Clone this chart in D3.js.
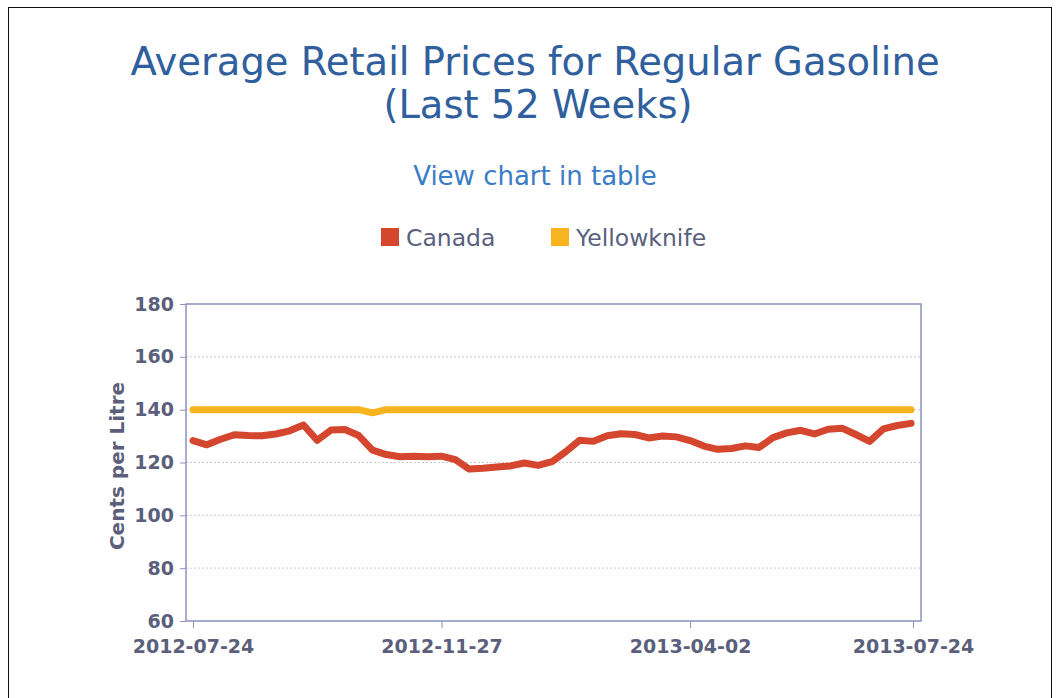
<!DOCTYPE html>
<html>
<head>
<meta charset="utf-8">
<script src="https://cdn.jsdelivr.net/npm/d3@7"></script>
<style>
  body { margin: 0; background: #fff; }
  svg { display: block; }
</style>
</head>
<body>
<div id="chart"></div>
<script>
// weekly prices, cents per litre, from 2012-07-24
const startDate = '2012-07-24';
const seriesNames = ['Canada', 'Yellowknife'];
const canadaValues = [
  128.3, 126.7, 128.8, 130.5, 130.2, 130.1, 130.8, 132.0, 134.2, 128.4,
  132.3, 132.5, 130.2, 124.7, 123.0, 122.2, 122.4, 122.2, 122.4, 121.1,
  117.5, 117.8, 118.3, 118.7, 119.8, 118.9, 120.3, 124.1, 128.4, 128.0,
  130.1, 130.9, 130.6, 129.3, 130.0, 129.7, 128.3, 126.2, 125.0, 125.3,
  126.3, 125.7, 129.4, 131.2, 132.2, 130.8, 132.6, 133.0, 130.6, 128.0,
  132.7, 134.0, 134.8
];
const yellowknifeValues = [
  140.0, 140.0, 140.0, 140.0, 140.0, 140.0, 140.0, 140.0, 140.0, 140.0,
  140.0, 140.0, 140.0, 138.8, 140.0, 140.0, 140.0, 140.0, 140.0, 140.0,
  140.0, 140.0, 140.0, 140.0, 140.0, 140.0, 140.0, 140.0, 140.0, 140.0,
  140.0, 140.0, 140.0, 140.0, 140.0, 140.0, 140.0, 140.0, 140.0, 140.0,
  140.0, 140.0, 140.0, 140.0, 140.0, 140.0, 140.0, 140.0, 140.0, 140.0,
  140.0, 140.0, 140.0
];
const xTickLabels = ['2012-07-24', '2012-11-27', '2013-04-02', '2013-07-24'];
const yTicks = [60, 80, 100, 120, 140, 160, 180];

const colors = { Canada: '#d5462e', Yellowknife: '#f8b41e' };

const width = 1059, height = 698;
const plot = { left: 186, right: 921, top: 304, bottom: 621 };

const parse = d3.timeParse('%Y-%m-%d');
const dates = canadaValues.map((_, i) => d3.timeDay.offset(parse(startDate), 7 * i));

const svg = d3.select('#chart').append('svg')
  .attr('width', width)
  .attr('height', height);

// outer frame
svg.append('rect')
  .attr('x', 8.5).attr('y', 7.5)
  .attr('width', 1043).attr('height', 700)
  .attr('fill', 'none')
  .attr('stroke', '#111')
  .attr('stroke-width', 1);

// Title
const title = svg.append('text')
  .attr('text-anchor', 'middle')
  .style('font-family', 'DejaVu Sans, Verdana, sans-serif')
  .style('font-size', '38.5px')
  .style('fill', '#2f609d');
title.append('tspan').attr('x', 535).attr('y', 75).text('Average Retail Prices for Regular Gasoline');
title.append('tspan').attr('x', 538).attr('y', 118).text('(Last 52 Weeks)');

svg.append('text')
  .attr('x', 535).attr('y', 185)
  .attr('text-anchor', 'middle')
  .style('font-family', 'DejaVu Sans, Verdana, sans-serif')
  .style('font-size', '26px')
  .style('fill', '#3b7cc6')
  .text('View chart in table');

// Legend
const legendX = [381, 551];
const legend = svg.append('g');
seriesNames.forEach((name, i) => {
  legend.append('rect')
    .attr('x', legendX[i]).attr('y', 228)
    .attr('width', 18).attr('height', 18)
    .attr('fill', colors[name]);
  legend.append('text')
    .attr('x', legendX[i] + 25).attr('y', 246)
    .style('font-family', 'DejaVu Sans, Verdana, sans-serif')
    .style('font-size', '23.5px')
    .style('fill', '#5a5f7d')
    .text(name);
});

// Scales
const x = d3.scaleTime()
  .domain([parse(xTickLabels[0]), parse(xTickLabels[xTickLabels.length - 1])])
  .range([193, 913]);

const y = d3.scaleLinear()
  .domain([60, 180])
  .range([plot.bottom, plot.top]);

// grid lines
svg.append('g')
  .selectAll('line')
  .data(yTicks.slice(1, -1))
  .join('line')
    .attr('x1', plot.left).attr('x2', plot.right)
    .attr('y1', d => y(d)).attr('y2', d => y(d))
    .attr('stroke', '#c9c9d2')
    .attr('stroke-width', 1)
    .attr('stroke-dasharray', '2,2');

// Y axis
const yAxis = svg.append('g')
  .attr('transform', `translate(${plot.left},0)`)
  .call(d3.axisLeft(y).tickValues(yTicks).tickSize(6).tickPadding(6));
yAxis.select('.domain').remove();
yAxis.selectAll('line').attr('stroke', '#8c92bd');
yAxis.selectAll('text')
  .style('font-family', 'DejaVu Sans, Verdana, sans-serif')
  .style('font-size', '19px')
  .style('font-weight', 'bold')
  .style('fill', '#5b5f7c');

// X axis
const xAxis = svg.append('g')
  .attr('transform', `translate(0,${plot.bottom})`)
  .call(d3.axisBottom(x)
    .tickValues(xTickLabels.map(parse))
    .tickFormat(d3.timeFormat('%Y-%m-%d'))
    .tickSize(7)
    .tickPadding(8));
xAxis.select('.domain').remove();
xAxis.selectAll('line').attr('stroke', '#8c92bd');
xAxis.selectAll('text')
  .style('font-family', 'DejaVu Sans, Verdana, sans-serif')
  .style('font-size', '19px')
  .style('font-weight', 'bold')
  .style('fill', '#5b5f7c')
  .attr('dy', '0.9em');

// plot frame
svg.append('rect')
  .attr('x', plot.left).attr('y', plot.top)
  .attr('width', plot.right - plot.left)
  .attr('height', plot.bottom - plot.top)
  .attr('fill', 'none')
  .attr('stroke', '#8c92bd')
  .attr('stroke-width', 1.5);

// Y axis title
svg.append('text')
  .attr('transform', `translate(124,466) rotate(-90)`)
  .attr('text-anchor', 'middle')
  .style('font-family', 'DejaVu Sans, Verdana, sans-serif')
  .style('font-size', '20px')
  .style('font-weight', 'bold')
  .style('fill', '#5b5f7c')
  .text('Cents per Litre');

// Lines
const line = d3.line()
  .x(d => x(d.date))
  .y(d => y(d.value));

const series = [
  { name: 'Yellowknife', values: yellowknifeValues },
  { name: 'Canada', values: canadaValues }
];

series.forEach(s => {
  svg.append('path')
    .datum(s.values.map((v, i) => ({ date: dates[i], value: v })))
    .attr('fill', 'none')
    .attr('stroke', colors[s.name])
    .attr('stroke-width', 7)
    .attr('stroke-linejoin', 'round')
    .attr('stroke-linecap', 'round')
    .attr('d', line);
});
</script>
</body>
</html>
